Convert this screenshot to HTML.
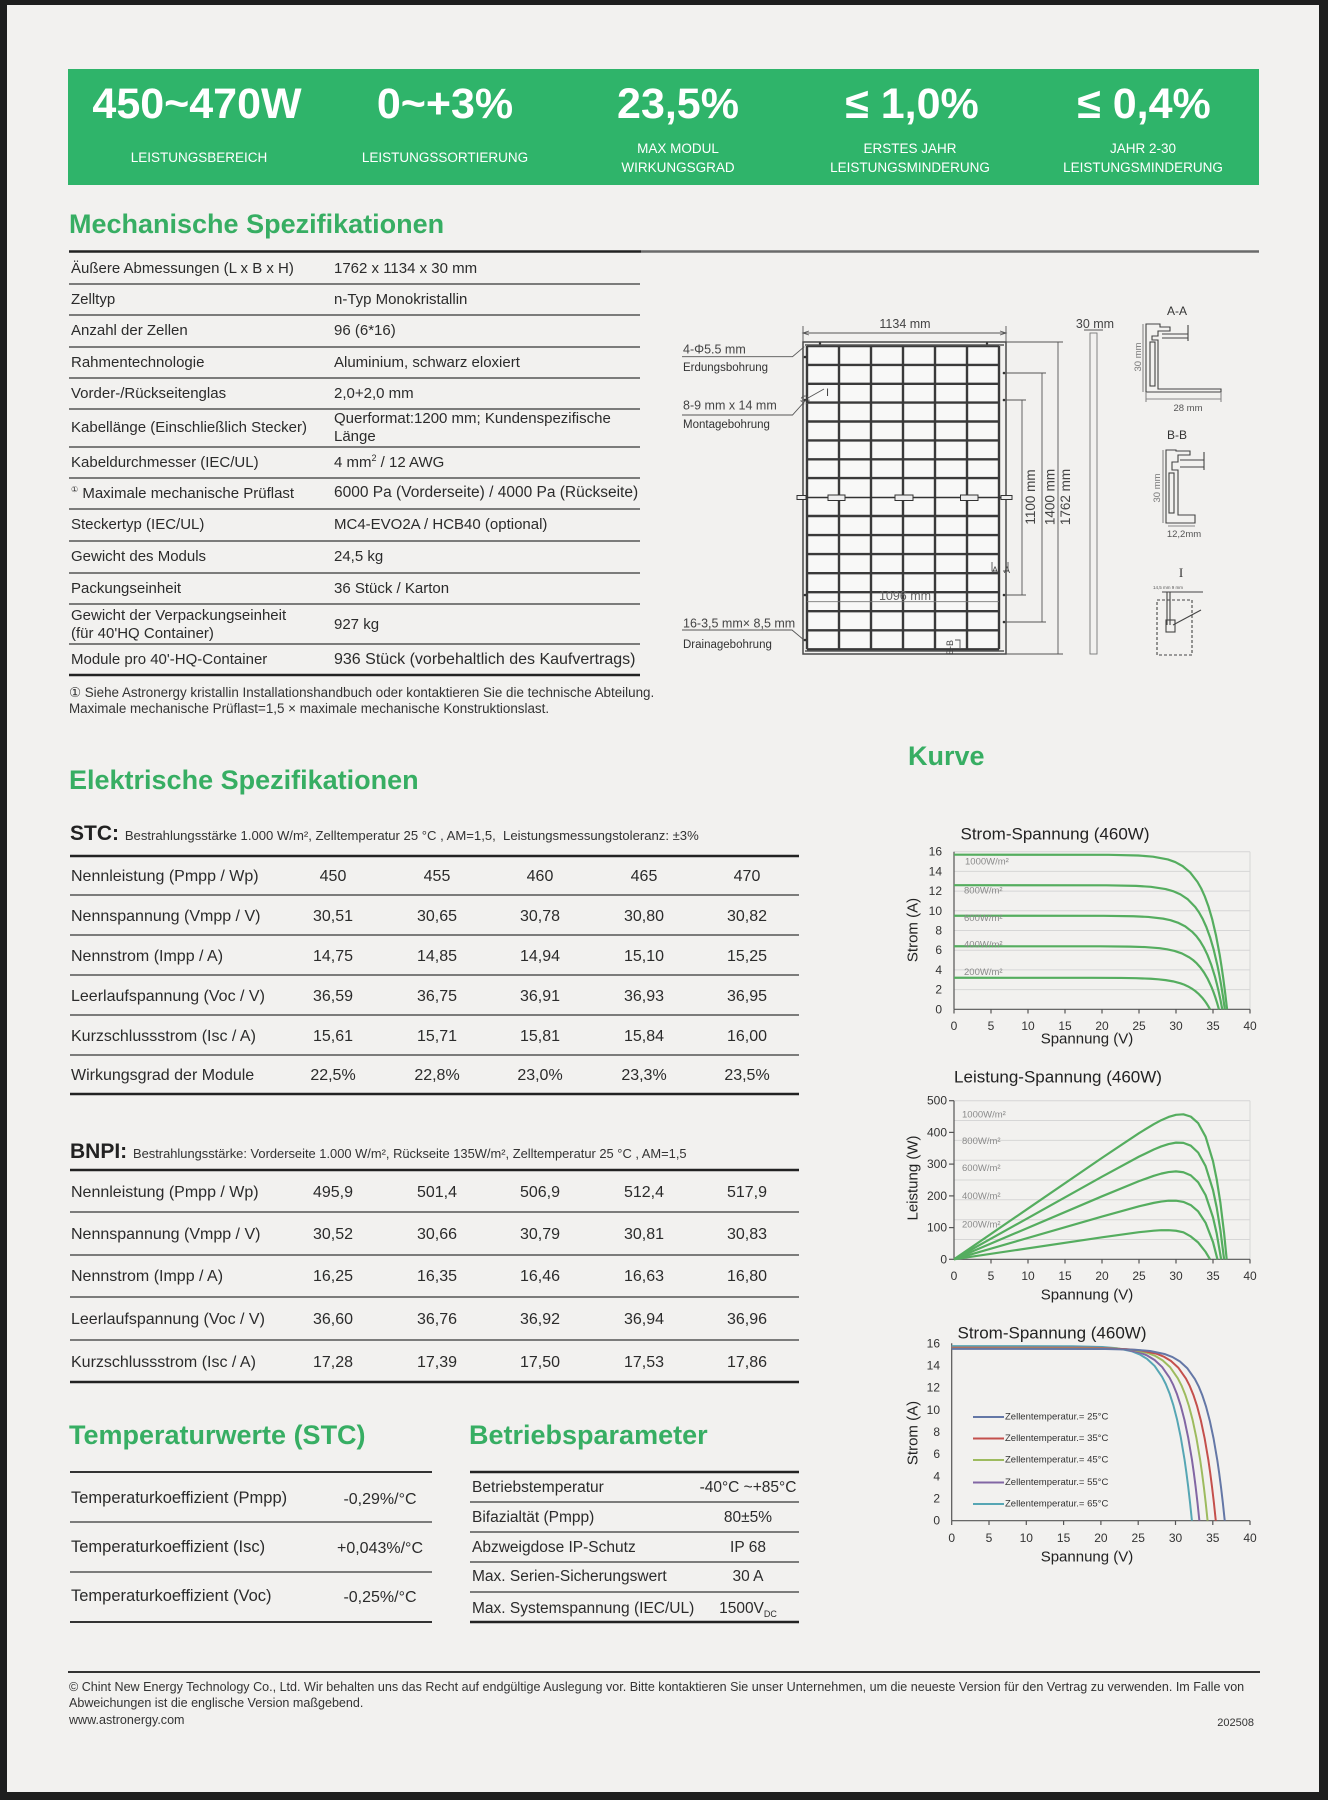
<!DOCTYPE html>
<html><head><meta charset="utf-8">
<style>
body{margin:0;width:1328px;height:1800px;background:#1e1e1e;position:relative;overflow:hidden;font-family:"Liberation Sans",sans-serif}
#pg{position:absolute;left:7px;top:5px;width:1312px;height:1787px;background:#f2f1ef}
.t{position:absolute;white-space:nowrap;line-height:1.2;color:#2b2b2b}
.b{font-weight:bold;color:#fff;font-size:43px;width:300px;text-align:center}
.l{color:#fff;font-size:13.5px;width:300px;text-align:center}
.h{font-weight:bold;color:#37ae63;font-size:27px}
.m{font-size:15px}
.e{font-size:16px}
.v{font-size:16px;width:100px;text-align:center}
.f{font-size:12.55px;color:#333}
svg{position:absolute;left:0;top:0}
</style></head><body>
<div id="pg"></div>
<div style="position:absolute;left:68px;top:69px;width:1191px;height:116px;background:#2fb46a"></div>

<svg width="1328" height="1800" viewBox="0 0 1328 1800" font-family="Liberation Sans, sans-serif">
<!-- rules -->
<line x1="69" y1="251.5" x2="641" y2="251.5" stroke="#222" stroke-width="2.5"/>
<line x1="641" y1="251.5" x2="1259" y2="251.5" stroke="#6a6a6a" stroke-width="2.5"/>
<g stroke="#555" stroke-width="1.6">
<line x1="69" y1="284" x2="640" y2="284"/><line x1="69" y1="315" x2="640" y2="315"/><line x1="69" y1="347" x2="640" y2="347"/><line x1="69" y1="378" x2="640" y2="378"/><line x1="69" y1="409" x2="640" y2="409"/><line x1="69" y1="447" x2="640" y2="447"/><line x1="69" y1="478" x2="640" y2="478"/><line x1="69" y1="509" x2="640" y2="509"/><line x1="69" y1="541" x2="640" y2="541"/><line x1="69" y1="573" x2="640" y2="573"/><line x1="69" y1="604" x2="640" y2="604"/><line x1="69" y1="644" x2="640" y2="644"/>
<line x1="70" y1="895" x2="799" y2="895"/><line x1="70" y1="935" x2="799" y2="935"/><line x1="70" y1="975" x2="799" y2="975"/><line x1="70" y1="1015" x2="799" y2="1015"/><line x1="70" y1="1055" x2="799" y2="1055"/>
<line x1="70" y1="1212" x2="799" y2="1212"/><line x1="70" y1="1255" x2="799" y2="1255"/><line x1="70" y1="1297" x2="799" y2="1297"/><line x1="70" y1="1340" x2="799" y2="1340"/>
<line x1="70" y1="1522" x2="432" y2="1522"/><line x1="70" y1="1572" x2="432" y2="1572"/>
<line x1="470" y1="1502" x2="799" y2="1502"/><line x1="470" y1="1532" x2="799" y2="1532"/><line x1="470" y1="1562" x2="799" y2="1562"/><line x1="470" y1="1592" x2="799" y2="1592"/>
</g>
<g stroke="#222" stroke-width="2.5">
<line x1="69" y1="675" x2="640" y2="675"/>
<line x1="70" y1="856" x2="799" y2="856"/><line x1="70" y1="1094" x2="799" y2="1094"/>
<line x1="70" y1="1170" x2="799" y2="1170"/><line x1="70" y1="1382" x2="799" y2="1382"/>
<line x1="70" y1="1472" x2="432" y2="1472" stroke="#333" stroke-width="2"/><line x1="70" y1="1622" x2="432" y2="1622" stroke="#333" stroke-width="2"/>
<line x1="470" y1="1472" x2="799" y2="1472"/><line x1="470" y1="1622" x2="799" y2="1622"/>
<line x1="68" y1="1672" x2="1260" y2="1672" stroke="#333" stroke-width="2"/>
</g>

<!-- module drawing -->
<rect x="807" y="346" width="192" height="303.3" fill="#f8f8f7"/>
<g stroke="#3a3a3a" stroke-width="2.4">
<line x1="807" y1="346" x2="807" y2="649.3"/><line x1="839" y1="346" x2="839" y2="649.3"/><line x1="871" y1="346" x2="871" y2="649.3"/><line x1="903" y1="346" x2="903" y2="649.3"/><line x1="935" y1="346" x2="935" y2="649.3"/><line x1="967" y1="346" x2="967" y2="649.3"/><line x1="999" y1="346" x2="999" y2="649.3"/>
<line x1="807" y1="346" x2="999" y2="346"/><line x1="807" y1="364.9" x2="999" y2="364.9"/><line x1="807" y1="383.8" x2="999" y2="383.8"/><line x1="807" y1="402.6" x2="999" y2="402.6"/><line x1="807" y1="421.5" x2="999" y2="421.5"/><line x1="807" y1="440.4" x2="999" y2="440.4"/><line x1="807" y1="459.3" x2="999" y2="459.3"/><line x1="807" y1="478.1" x2="999" y2="478.1"/>
<line x1="807" y1="516" x2="999" y2="516"/><line x1="807" y1="535.1" x2="999" y2="535.1"/><line x1="807" y1="554.1" x2="999" y2="554.1"/><line x1="807" y1="573.2" x2="999" y2="573.2"/><line x1="807" y1="592.2" x2="999" y2="592.2"/><line x1="807" y1="611.2" x2="999" y2="611.2"/><line x1="807" y1="630.3" x2="999" y2="630.3"/><line x1="807" y1="649.3" x2="999" y2="649.3"/>
</g>
<rect x="803" y="342" width="203" height="312" fill="none" stroke="#4a4a4a" stroke-width="1.5"/>
<line x1="805" y1="345" x2="1004" y2="345" stroke="#555" stroke-width="1.5"/>
<line x1="805" y1="651" x2="1004" y2="651" stroke="#555" stroke-width="1.5"/>
<line x1="797" y1="497.5" x2="1012" y2="497.5" stroke="#333" stroke-width="1.4"/>
<g fill="#eee" stroke="#333" stroke-width="1">
<rect x="828" y="495" width="17" height="5.5"/><rect x="895" y="495" width="18" height="5.5"/><rect x="960.5" y="495" width="17.5" height="5.5"/>
<rect x="797" y="495.5" width="9" height="4"/><rect x="1001" y="495.5" width="11" height="4"/>
</g>
<g fill="#333"><circle cx="805" cy="357" r="1.3"/><circle cx="805" cy="400" r="1.3"/><circle cx="805" cy="595" r="1.3"/><circle cx="805" cy="640" r="1.3"/><circle cx="1004" cy="373" r="1.3"/><circle cx="1004" cy="400" r="1.3"/><circle cx="1004" cy="595" r="1.3"/><circle cx="1004" cy="622" r="1.3"/><circle cx="820" cy="343.5" r="1.2"/><circle cx="987" cy="343.5" r="1.2"/></g>
<g stroke="#555" stroke-width="0.9" fill="none">
<line x1="803" y1="333" x2="1006" y2="333"/><line x1="803" y1="326" x2="803" y2="342"/><line x1="1006" y1="326" x2="1006" y2="342"/>
<polyline points="809,331 803,333 809,335"/><polyline points="1000,331 1006,333 1000,335"/>
<line x1="1006" y1="342" x2="1063" y2="342"/><line x1="1006" y1="654" x2="1063" y2="654"/><line x1="1058" y1="342" x2="1058" y2="654"/>
<line x1="1006" y1="373" x2="1046" y2="373"/><line x1="1006" y1="622" x2="1046" y2="622"/><line x1="1042" y1="373" x2="1042" y2="622"/>
<line x1="1006" y1="400" x2="1026" y2="400"/><line x1="1006" y1="595" x2="1026" y2="595"/><line x1="1022" y1="400" x2="1022" y2="595"/>
<line x1="807" y1="601.7" x2="999" y2="601.7" stroke="#777"/>
<polyline points="682,356.7 792.5,356.7 804.3,346.7"/>
<polyline points="682,415 792.5,415 806,400"/>
<line x1="808" y1="398" x2="824" y2="389"/>
<circle cx="805" cy="400" r="4" stroke-dasharray="2,1.5"/>
<polyline points="682,630 792,630 804,640"/>
<rect x="1090" y="333" width="7" height="321" stroke="#777"/>
<line x1="1084" y1="330" x2="1103" y2="330"/>
<polyline points="992,562 992,571 997,571"/><polyline points="1008,562 1008,571 1003,571"/>
<polyline points="955,640 960,640 960,648"/>
</g>
<g font-size="12.5" fill="#444">
<text x="905" y="328" text-anchor="middle">1134 mm</text>
<text x="1095" y="328" text-anchor="middle">30 mm</text>
<text x="905" y="600" text-anchor="middle" fill="#666">1096 mm</text>
<text x="683" y="353.5">4-Φ5.5 mm</text>
<text x="683" y="409.5">8-9 mm x 14 mm</text>
<text x="683" y="627.5">16-3,5 mm× 8,5 mm</text>
<text x="826" y="396" font-size="11">I</text>
</g>
<g font-size="11.5" fill="#333">
<text x="683" y="371">Erdungsbohrung</text>
<text x="683" y="428">Montagebohrung</text>
<text x="683" y="648">Drainagebohrung</text>
</g>
<g font-size="13.5" fill="#444" text-anchor="middle">
<text transform="translate(1070,497) rotate(-90)">1762 mm</text>
<text transform="translate(1054.5,497) rotate(-90)">1400 mm</text>
<text transform="translate(1035,497) rotate(-90)">1100 mm</text>
</g>
<g font-size="9" fill="#444"><text x="992" y="573">A</text><text x="1004" y="573">A</text><text transform="translate(953,655) rotate(-90)">B-B</text></g>

<!-- sections -->
<g font-size="12" fill="#333" text-anchor="middle">
<text x="1177" y="315">A-A</text><text x="1177" y="439">B-B</text><text x="1181" y="577" font-size="13" font-family="Liberation Serif, serif">I</text>
<text x="1188" y="411" font-size="9.5" fill="#555">28 mm</text><text x="1184" y="537" font-size="9.5" fill="#555">12,2mm</text>
<text transform="translate(1141,357) rotate(-90)" font-size="9.5" fill="#777">30 mm</text>
<text transform="translate(1160,488) rotate(-90)" font-size="9.5" fill="#777">30 mm</text>
<text x="1168" y="589" font-size="4.5" fill="#555">14,5 mm   9 mm</text>
</g>
<g stroke="#444" stroke-width="1.1" fill="none">
<path d="M1146,324 L1146,392 L1221,392 L1221,389 L1158,389 L1158,340 L1152,340 L1152,336 L1158,336 L1158,331 L1170,331 L1170,327 L1160,327 L1160,324 Z"/>
<rect x="1150" y="342" width="5" height="44"/>
<line x1="1162" y1="334" x2="1188" y2="334"/><line x1="1162" y1="338" x2="1188" y2="338"/><line x1="1188" y1="325" x2="1188" y2="341"/>
<line x1="1143" y1="324" x2="1143" y2="392" stroke="#888"/><line x1="1146" y1="399" x2="1221" y2="399" stroke="#888"/><line x1="1146" y1="392" x2="1146" y2="402" stroke="#888"/><line x1="1221" y1="392" x2="1221" y2="402" stroke="#888"/>
<path d="M1166,450 L1166,523 L1195,523 L1195,515 L1178,515 L1178,470 L1172,470 L1172,462 L1178,462 L1178,455 L1190,455 L1190,451 L1176,451 L1176,450 Z"/>
<rect x="1169" y="473" width="5" height="40"/>
<line x1="1180" y1="460" x2="1204" y2="460"/><line x1="1180" y1="467" x2="1204" y2="467"/><line x1="1204" y1="452" x2="1204" y2="470"/>
<line x1="1163" y1="450" x2="1163" y2="523" stroke="#888"/><line x1="1168" y1="526" x2="1195" y2="526" stroke="#888"/>
<rect x="1157" y="600" width="35" height="55" stroke-dasharray="3,2"/>
<line x1="1162" y1="592" x2="1203" y2="592"/><line x1="1167" y1="592" x2="1167" y2="625"/><line x1="1170" y1="592" x2="1170" y2="625"/>
<rect x="1166" y="620" width="9" height="12"/><line x1="1173" y1="625" x2="1201" y2="610"/>
</g>

<!-- Chart 1 -->
<g stroke="#d6d6d6" stroke-width="1">
<line x1="954" y1="989.6" x2="1250" y2="989.6"/><line x1="954" y1="969.9" x2="1250" y2="969.9"/><line x1="954" y1="950.2" x2="1250" y2="950.2"/><line x1="954" y1="930.5" x2="1250" y2="930.5"/><line x1="954" y1="910.8" x2="1250" y2="910.8"/><line x1="954" y1="891.1" x2="1250" y2="891.1"/><line x1="954" y1="871.4" x2="1250" y2="871.4"/><line x1="954" y1="851.7" x2="1250" y2="851.7"/>
<line x1="1250" y1="851.7" x2="1250" y2="1009.3"/>
</g>
<g stroke="#555" stroke-width="1.2">
<line x1="954" y1="851.7" x2="954" y2="1009.3"/><line x1="954" y1="1009.3" x2="1250" y2="1009.3"/>
<line x1="954" y1="1009.3" x2="954" y2="1013.5"/><line x1="991" y1="1009.3" x2="991" y2="1013.5"/><line x1="1028" y1="1009.3" x2="1028" y2="1013.5"/><line x1="1065" y1="1009.3" x2="1065" y2="1013.5"/><line x1="1102" y1="1009.3" x2="1102" y2="1013.5"/><line x1="1139" y1="1009.3" x2="1139" y2="1013.5"/><line x1="1176" y1="1009.3" x2="1176" y2="1013.5"/><line x1="1213" y1="1009.3" x2="1213" y2="1013.5"/><line x1="1250" y1="1009.3" x2="1250" y2="1013.5"/>
</g>
<defs>
<clipPath id="c1"><rect x="0" y="-5" width="41" height="600"/></clipPath>
</defs>
<g transform="translate(954 1009.3) scale(7.4 -9.85)"><g clip-path="url(#c1)" fill="none" stroke="#55ad5f" stroke-width="2.2" stroke-linejoin="round">
<path vector-effect="non-scaling-stroke" transform="translate(36.9 0) scale(1 15.7)" d="M-40,1 L-16,0.999 L-12,0.9946 L-10,0.987 L-8,0.969 L-7,0.952 L-6,0.926 L-5,0.886 L-4,0.824 L-3.5,0.782 L-3,0.729 L-2.5,0.663 L-2,0.581 L-1.5,0.479 L-1,0.353 L-0.75,0.278 L-0.5,0.195 L-0.25,0.103 L0,0"/>
<path vector-effect="non-scaling-stroke" transform="translate(36.6 0) scale(1 12.6)" d="M-40,1 L-16,0.999 L-12,0.9946 L-10,0.987 L-8,0.969 L-7,0.952 L-6,0.926 L-5,0.886 L-4,0.824 L-3.5,0.782 L-3,0.729 L-2.5,0.663 L-2,0.581 L-1.5,0.479 L-1,0.353 L-0.75,0.278 L-0.5,0.195 L-0.25,0.103 L0,0"/>
<path vector-effect="non-scaling-stroke" transform="translate(36.25 0) scale(1 9.5)" d="M-40,1 L-16,0.999 L-12,0.9946 L-10,0.987 L-8,0.969 L-7,0.952 L-6,0.926 L-5,0.886 L-4,0.824 L-3.5,0.782 L-3,0.729 L-2.5,0.663 L-2,0.581 L-1.5,0.479 L-1,0.353 L-0.75,0.278 L-0.5,0.195 L-0.25,0.103 L0,0"/>
<path vector-effect="non-scaling-stroke" transform="translate(35.8 0) scale(1 6.4)" d="M-40,1 L-16,0.999 L-12,0.9946 L-10,0.987 L-8,0.969 L-7,0.952 L-6,0.926 L-5,0.886 L-4,0.824 L-3.5,0.782 L-3,0.729 L-2.5,0.663 L-2,0.581 L-1.5,0.479 L-1,0.353 L-0.75,0.278 L-0.5,0.195 L-0.25,0.103 L0,0"/>
<path vector-effect="non-scaling-stroke" transform="translate(34.6 0) scale(1 3.2)" d="M-40,1 L-16,0.999 L-12,0.9946 L-10,0.987 L-8,0.969 L-7,0.952 L-6,0.926 L-5,0.886 L-4,0.824 L-3.5,0.782 L-3,0.729 L-2.5,0.663 L-2,0.581 L-1.5,0.479 L-1,0.353 L-0.75,0.278 L-0.5,0.195 L-0.25,0.103 L0,0"/>
</g></g>
<g font-size="9.5" fill="#8a8a8a" dominant-baseline="central">
<text x="965" y="862">1000W/m²</text><text x="964" y="891">800W/m²</text><text x="964" y="918.5">600W/m²</text><text x="964" y="945">400W/m²</text><text x="964" y="972.5">200W/m²</text>
</g>
<g font-size="12" fill="#333" dominant-baseline="central" text-anchor="end">
<text x="942" y="1009.3">0</text><text x="942" y="989.6">2</text><text x="942" y="969.9">4</text><text x="942" y="950.2">6</text><text x="942" y="930.5">8</text><text x="942" y="910.8">10</text><text x="942" y="891.1">12</text><text x="942" y="871.4">14</text><text x="942" y="851.7">16</text>
</g>
<g font-size="12" fill="#333" dominant-baseline="central" text-anchor="middle">
<text x="954" y="1026">0</text><text x="991" y="1026">5</text><text x="1028" y="1026">10</text><text x="1065" y="1026">15</text><text x="1102" y="1026">20</text><text x="1139" y="1026">25</text><text x="1176" y="1026">30</text><text x="1213" y="1026">35</text><text x="1250" y="1026">40</text>
</g>
<g fill="#222" text-anchor="middle" dominant-baseline="central">
<text x="1055" y="834" font-size="17">Strom-Spannung (460W)</text>
<text x="1087" y="1039" font-size="15">Spannung (V)</text>
<text transform="translate(913,930) rotate(-90)" font-size="15">Strom (A)</text>
</g>

<!-- Chart 2 -->
<g stroke="#d6d6d6" stroke-width="1">
<line x1="954" y1="1239.5" x2="1250" y2="1239.5"/><line x1="954" y1="1219.7" x2="1250" y2="1219.7"/><line x1="954" y1="1199.8" x2="1250" y2="1199.8"/><line x1="954" y1="1180" x2="1250" y2="1180"/><line x1="954" y1="1160.2" x2="1250" y2="1160.2"/><line x1="954" y1="1140.4" x2="1250" y2="1140.4"/><line x1="954" y1="1120.5" x2="1250" y2="1120.5"/><line x1="954" y1="1100.7" x2="1250" y2="1100.7"/>
<line x1="1250" y1="1100.7" x2="1250" y2="1259.3"/>
</g>
<g stroke="#555" stroke-width="1.2">
<line x1="954" y1="1100.7" x2="954" y2="1259.3"/><line x1="954" y1="1259.3" x2="1250" y2="1259.3"/>
<line x1="949" y1="1259.3" x2="954" y2="1259.3"/><line x1="949" y1="1227.6" x2="954" y2="1227.6"/><line x1="949" y1="1195.9" x2="954" y2="1195.9"/><line x1="949" y1="1164.1" x2="954" y2="1164.1"/><line x1="949" y1="1132.4" x2="954" y2="1132.4"/><line x1="949" y1="1100.7" x2="954" y2="1100.7"/>
<line x1="991" y1="1259.3" x2="991" y2="1263.5"/><line x1="1028" y1="1259.3" x2="1028" y2="1263.5"/><line x1="1065" y1="1259.3" x2="1065" y2="1263.5"/><line x1="1102" y1="1259.3" x2="1102" y2="1263.5"/><line x1="1139" y1="1259.3" x2="1139" y2="1263.5"/><line x1="1176" y1="1259.3" x2="1176" y2="1263.5"/><line x1="1213" y1="1259.3" x2="1213" y2="1263.5"/><line x1="1250" y1="1259.3" x2="1250" y2="1263.5"/>
</g>
<g transform="translate(954 1259.3) scale(7.4 -0.3172)" fill="none" stroke="#55ad5f" stroke-width="2.2" stroke-linejoin="round">
<polyline vector-effect="non-scaling-stroke" points="0,0 10,160 20,319.8 25,397.7 27,426 28,438.5 29,448.7 30,455.5 31,457 32,449.8 33,429 34,386.5 35,309.4 35.5,252.2 36,178 36.5,82.3 36.85,0"/>
<polyline vector-effect="non-scaling-stroke" points="0,0 20,260.4 25,323.6 27,346.1 28,355.8 29,363.4 30,367.8 31,367 32,358.2 33,336.3 34,293.7 35,218.4 35.5,163.3 36,91.5 36.5,0"/>
<polyline vector-effect="non-scaling-stroke" points="0,0 20,198.6 25,246.5 27,263.3 28,270.1 29,275.1 30,277.2 31,274.5 32,264.6 33,242.8 34,202.3 35,132.2 35.5,81.2 36.1,0"/>
<polyline vector-effect="non-scaling-stroke" points="0,0 20,134.9 25,167.1 27,177.9 28,182 29,184.7 30,184.7 31,180.9 32,170.9 33,150.8 34,115.1 35,54.3 35.6,0"/>
<polyline vector-effect="non-scaling-stroke" points="0,0 20,69.3 25,85.4 27,90.2 28,91.7 29,91.8 30,90 31,85.1 32,72 33,52.9 34,23.4 34.6,0"/>
</g>
<g font-size="9.5" fill="#8a8a8a" dominant-baseline="central">
<text x="962" y="1115">1000W/m²</text><text x="962" y="1141.7">800W/m²</text><text x="962" y="1168.3">600W/m²</text><text x="962" y="1196.7">400W/m²</text><text x="962" y="1225">200W/m²</text>
</g>
<g font-size="12" fill="#333" dominant-baseline="central" text-anchor="end">
<text x="947" y="1259.3">0</text><text x="947" y="1227.6">100</text><text x="947" y="1195.9">200</text><text x="947" y="1164.1">300</text><text x="947" y="1132.4">400</text><text x="947" y="1100.7">500</text>
</g>
<g font-size="12" fill="#333" dominant-baseline="central" text-anchor="middle">
<text x="954" y="1276">0</text><text x="991" y="1276">5</text><text x="1028" y="1276">10</text><text x="1065" y="1276">15</text><text x="1102" y="1276">20</text><text x="1139" y="1276">25</text><text x="1176" y="1276">30</text><text x="1213" y="1276">35</text><text x="1250" y="1276">40</text>
</g>
<g fill="#222" text-anchor="middle" dominant-baseline="central">
<text x="1058" y="1077" font-size="17">Leistung-Spannung (460W)</text>
<text x="1087" y="1295" font-size="15">Spannung (V)</text>
<text transform="translate(913,1178) rotate(-90)" font-size="15">Leistung (W)</text>
</g>

<!-- Chart 3 -->
<g stroke="#555" stroke-width="1.2">
<line x1="951.7" y1="1343.3" x2="951.7" y2="1520.7"/><line x1="951.7" y1="1520.7" x2="1250" y2="1520.7"/>
<line x1="951.7" y1="1520.7" x2="951.7" y2="1525"/><line x1="989" y1="1520.7" x2="989" y2="1525"/><line x1="1026.3" y1="1520.7" x2="1026.3" y2="1525"/><line x1="1063.6" y1="1520.7" x2="1063.6" y2="1525"/><line x1="1100.9" y1="1520.7" x2="1100.9" y2="1525"/><line x1="1138.2" y1="1520.7" x2="1138.2" y2="1525"/><line x1="1175.5" y1="1520.7" x2="1175.5" y2="1525"/><line x1="1212.8" y1="1520.7" x2="1212.8" y2="1525"/><line x1="1250" y1="1520.7" x2="1250" y2="1525"/>
</g>
<g transform="translate(951.7 1520.7) scale(7.46 -11.09)"><g clip-path="url(#c1)" fill="none" stroke-width="2" stroke-linejoin="round">
<path stroke="#56a6b4" vector-effect="non-scaling-stroke" transform="translate(32.2 0) scale(1 15.75)" d="M-40,1 L-16,0.999 L-12,0.9946 L-10,0.987 L-8,0.969 L-7,0.952 L-6,0.926 L-5,0.886 L-4,0.824 L-3.5,0.782 L-3,0.729 L-2.5,0.663 L-2,0.581 L-1.5,0.479 L-1,0.353 L-0.75,0.278 L-0.5,0.195 L-0.25,0.103 L0,0"/>
<path stroke="#8266a4" vector-effect="non-scaling-stroke" transform="translate(33.2 0) scale(1 15.65)" d="M-40,1 L-16,0.999 L-12,0.9946 L-10,0.987 L-8,0.969 L-7,0.952 L-6,0.926 L-5,0.886 L-4,0.824 L-3.5,0.782 L-3,0.729 L-2.5,0.663 L-2,0.581 L-1.5,0.479 L-1,0.353 L-0.75,0.278 L-0.5,0.195 L-0.25,0.103 L0,0"/>
<path stroke="#9dbb5e" vector-effect="non-scaling-stroke" transform="translate(34.3 0) scale(1 15.6)" d="M-40,1 L-16,0.999 L-12,0.9946 L-10,0.987 L-8,0.969 L-7,0.952 L-6,0.926 L-5,0.886 L-4,0.824 L-3.5,0.782 L-3,0.729 L-2.5,0.663 L-2,0.581 L-1.5,0.479 L-1,0.353 L-0.75,0.278 L-0.5,0.195 L-0.25,0.103 L0,0"/>
<path stroke="#c4504c" vector-effect="non-scaling-stroke" transform="translate(35.4 0) scale(1 15.55)" d="M-40,1 L-16,0.999 L-12,0.9946 L-10,0.987 L-8,0.969 L-7,0.952 L-6,0.926 L-5,0.886 L-4,0.824 L-3.5,0.782 L-3,0.729 L-2.5,0.663 L-2,0.581 L-1.5,0.479 L-1,0.353 L-0.75,0.278 L-0.5,0.195 L-0.25,0.103 L0,0"/>
<path stroke="#6477a6" vector-effect="non-scaling-stroke" transform="translate(36.6 0) scale(1 15.5)" d="M-40,1 L-16,0.999 L-12,0.9946 L-10,0.987 L-8,0.969 L-7,0.952 L-6,0.926 L-5,0.886 L-4,0.824 L-3.5,0.782 L-3,0.729 L-2.5,0.663 L-2,0.581 L-1.5,0.479 L-1,0.353 L-0.75,0.278 L-0.5,0.195 L-0.25,0.103 L0,0"/>
</g></g>
<g stroke-width="2">
<line x1="973" y1="1417" x2="1004" y2="1417" stroke="#6477a6"/><line x1="973" y1="1438.5" x2="1004" y2="1438.5" stroke="#c4504c"/><line x1="973" y1="1460" x2="1004" y2="1460" stroke="#9dbb5e"/><line x1="973" y1="1482.5" x2="1004" y2="1482.5" stroke="#8266a4"/><line x1="973" y1="1504" x2="1004" y2="1504" stroke="#56a6b4"/>
</g>
<g font-size="9.5" fill="#333" dominant-baseline="central">
<text x="1005" y="1417">Zellentemperatur.= 25°C</text><text x="1005" y="1438.5">Zellentemperatur.= 35°C</text><text x="1005" y="1460">Zellentemperatur.= 45°C</text><text x="1005" y="1482.5">Zellentemperatur.= 55°C</text><text x="1005" y="1504">Zellentemperatur.= 65°C</text>
</g>
<g font-size="12" fill="#333" dominant-baseline="central" text-anchor="end">
<text x="940" y="1520.7">0</text><text x="940" y="1498.5">2</text><text x="940" y="1476.3">4</text><text x="940" y="1454.2">6</text><text x="940" y="1432">8</text><text x="940" y="1409.8">10</text><text x="940" y="1387.7">12</text><text x="940" y="1365.5">14</text><text x="940" y="1343.3">16</text>
</g>
<g font-size="12" fill="#333" dominant-baseline="central" text-anchor="middle">
<text x="951.7" y="1538">0</text><text x="989" y="1538">5</text><text x="1026.3" y="1538">10</text><text x="1063.6" y="1538">15</text><text x="1100.9" y="1538">20</text><text x="1138.2" y="1538">25</text><text x="1175.5" y="1538">30</text><text x="1212.8" y="1538">35</text><text x="1250" y="1538">40</text>
</g>
<g fill="#222" text-anchor="middle" dominant-baseline="central">
<text x="1052" y="1333" font-size="17">Strom-Spannung (460W)</text>
<text x="1087" y="1557" font-size="15">Spannung (V)</text>
<text transform="translate(913,1433) rotate(-90)" font-size="15">Strom (A)</text>
</g>
</svg>

<!-- Banner -->
<div class="t b" style="left:47px;top:79px">450~470W</div>
<div class="t b" style="left:295px;top:79px">0~+3%</div>
<div class="t b" style="left:528px;top:79px">23,5%</div>
<div class="t b" style="left:762px;top:79px">≤ 1,0%</div>
<div class="t b" style="left:994px;top:79px">≤ 0,4%</div>
<div class="t l" style="left:49px;top:149.5px">LEISTUNGSBEREICH</div>
<div class="t l" style="left:295px;top:149.5px">LEISTUNGSSORTIERUNG</div>
<div class="t l" style="left:528px;top:141.3px">MAX MODUL</div>
<div class="t l" style="left:528px;top:159.7px">WIRKUNGSGRAD</div>
<div class="t l" style="left:760px;top:141.3px">ERSTES JAHR</div>
<div class="t l" style="left:760px;top:159.7px">LEISTUNGSMINDERUNG</div>
<div class="t l" style="left:993px;top:141.3px">JAHR 2-30</div>
<div class="t l" style="left:993px;top:159.7px">LEISTUNGSMINDERUNG</div>

<!-- Headings -->
<div class="t h" style="left:69px;top:208px">Mechanische Spezifikationen</div>
<div class="t h" style="left:69px;top:764px">Elektrische Spezifikationen</div>
<div class="t h" style="left:908px;top:740px">Kurve</div>
<div class="t h" style="left:69px;top:1419px">Temperaturwerte (STC)</div>
<div class="t h" style="left:469px;top:1419px">Betriebsparameter</div>

<!-- Mech table -->
<div class="t m" style="left:71px;top:259.5px">Äußere Abmessungen (L x B x H)</div><div class="t m" style="left:334px;top:259.5px">1762 x 1134 x 30 mm</div>
<div class="t m" style="left:71px;top:290.6px">Zelltyp</div><div class="t m" style="left:334px;top:290.6px">n-Typ Monokristallin</div>
<div class="t m" style="left:71px;top:322px">Anzahl der Zellen</div><div class="t m" style="left:334px;top:322px">96 (6*16)</div>
<div class="t m" style="left:71px;top:353.6px">Rahmentechnologie</div><div class="t m" style="left:334px;top:353.6px">Aluminium, schwarz eloxiert</div>
<div class="t m" style="left:71px;top:384.6px">Vorder-/Rückseitenglas</div><div class="t m" style="left:334px;top:384.6px">2,0+2,0 mm</div>
<div class="t m" style="left:71px;top:419px">Kabellänge (Einschließlich Stecker)</div><div class="t m" style="left:334px;top:410.4px">Querformat:1200 mm; Kundenspezifische</div><div class="t m" style="left:334px;top:428.4px">Länge</div>
<div class="t m" style="left:71px;top:453.6px">Kabeldurchmesser (IEC/UL)</div><div class="t m" style="left:334px;top:453.6px">4 mm<sup style="font-size:9px;line-height:0">2</sup> / 12 AWG</div>
<div class="t m" style="left:71px;top:484.6px"><sup style="font-size:8px;line-height:0">①</sup> Maximale mechanische Prüflast</div><div class="t m" style="left:334px;top:484.3px;font-size:15.5px">6000 Pa (Vorderseite) / 4000 Pa (Rückseite)</div>
<div class="t m" style="left:71px;top:516px">Steckertyp (IEC/UL)</div><div class="t m" style="left:334px;top:516px">MC4-EVO2A / HCB40 (optional)</div>
<div class="t m" style="left:71px;top:548px">Gewicht des Moduls</div><div class="t m" style="left:334px;top:548px">24,5 kg</div>
<div class="t m" style="left:71px;top:579.6px">Packungseinheit</div><div class="t m" style="left:334px;top:579.6px">36 Stück / Karton</div>
<div class="t m" style="left:71px;top:607px">Gewicht der Verpackungseinheit</div><div class="t m" style="left:71px;top:625px">(für 40'HQ Container)</div><div class="t m" style="left:334px;top:616px">927 kg</div>
<div class="t m" style="left:71px;top:650.6px">Module pro 40'-HQ-Container</div><div class="t m" style="left:334px;top:650px;font-size:16px">936 Stück (vorbehaltlich des Kaufvertrags)</div>
<div class="t" style="left:69px;top:685px;font-size:13.4px;color:#333">① Siehe Astronergy kristallin Installationshandbuch oder kontaktieren Sie die technische Abteilung.</div>
<div class="t" style="left:69px;top:700.5px;font-size:13.4px;color:#333">Maximale mechanische Prüflast=1,5 × maximale mechanische Konstruktionslast.</div>

<!-- STC -->
<div class="t" style="left:70px;top:820.6px;font-size:21px;font-weight:bold;color:#222">STC: <span style="font-size:13.1px;font-weight:normal;color:#333">Bestrahlungsstärke 1.000 W/m², Zelltemperatur 25 °C , AM=1,5,&nbsp; Leistungsmessungstoleranz: ±3%</span></div>
<div class="t e" style="left:71px;top:866.6px">Nennleistung (Pmpp / Wp)</div>
<div class="t v" style="left:283px;top:866.6px">450</div><div class="t v" style="left:387px;top:866.6px">455</div><div class="t v" style="left:490px;top:866.6px">460</div><div class="t v" style="left:594px;top:866.6px">465</div><div class="t v" style="left:697px;top:866.6px">470</div>
<div class="t e" style="left:71px;top:906.6px">Nennspannung (Vmpp / V)</div>
<div class="t v" style="left:283px;top:906.6px">30,51</div><div class="t v" style="left:387px;top:906.6px">30,65</div><div class="t v" style="left:490px;top:906.6px">30,78</div><div class="t v" style="left:594px;top:906.6px">30,80</div><div class="t v" style="left:697px;top:906.6px">30,82</div>
<div class="t e" style="left:71px;top:946.6px">Nennstrom (Impp / A)</div>
<div class="t v" style="left:283px;top:946.6px">14,75</div><div class="t v" style="left:387px;top:946.6px">14,85</div><div class="t v" style="left:490px;top:946.6px">14,94</div><div class="t v" style="left:594px;top:946.6px">15,10</div><div class="t v" style="left:697px;top:946.6px">15,25</div>
<div class="t e" style="left:71px;top:986.6px">Leerlaufspannung (Voc / V)</div>
<div class="t v" style="left:283px;top:986.6px">36,59</div><div class="t v" style="left:387px;top:986.6px">36,75</div><div class="t v" style="left:490px;top:986.6px">36,91</div><div class="t v" style="left:594px;top:986.6px">36,93</div><div class="t v" style="left:697px;top:986.6px">36,95</div>
<div class="t e" style="left:71px;top:1026.6px">Kurzschlussstrom (Isc / A)</div>
<div class="t v" style="left:283px;top:1026.6px">15,61</div><div class="t v" style="left:387px;top:1026.6px">15,71</div><div class="t v" style="left:490px;top:1026.6px">15,81</div><div class="t v" style="left:594px;top:1026.6px">15,84</div><div class="t v" style="left:697px;top:1026.6px">16,00</div>
<div class="t e" style="left:71px;top:1065.6px">Wirkungsgrad der Module</div>
<div class="t v" style="left:283px;top:1065.6px">22,5%</div><div class="t v" style="left:387px;top:1065.6px">22,8%</div><div class="t v" style="left:490px;top:1065.6px">23,0%</div><div class="t v" style="left:594px;top:1065.6px">23,3%</div><div class="t v" style="left:697px;top:1065.6px">23,5%</div>

<!-- BNPI -->
<div class="t" style="left:70px;top:1138.6px;font-size:21px;font-weight:bold;color:#222">BNPI: <span style="font-size:12.9px;font-weight:normal;color:#333">Bestrahlungsstärke: Vorderseite 1.000 W/m², Rückseite 135W/m², Zelltemperatur 25 °C , AM=1,5</span></div>
<div class="t e" style="left:71px;top:1182.6px">Nennleistung (Pmpp / Wp)</div>
<div class="t v" style="left:283px;top:1182.6px">495,9</div><div class="t v" style="left:387px;top:1182.6px">501,4</div><div class="t v" style="left:490px;top:1182.6px">506,9</div><div class="t v" style="left:594px;top:1182.6px">512,4</div><div class="t v" style="left:697px;top:1182.6px">517,9</div>
<div class="t e" style="left:71px;top:1224.6px">Nennspannung (Vmpp / V)</div>
<div class="t v" style="left:283px;top:1224.6px">30,52</div><div class="t v" style="left:387px;top:1224.6px">30,66</div><div class="t v" style="left:490px;top:1224.6px">30,79</div><div class="t v" style="left:594px;top:1224.6px">30,81</div><div class="t v" style="left:697px;top:1224.6px">30,83</div>
<div class="t e" style="left:71px;top:1266.6px">Nennstrom (Impp / A)</div>
<div class="t v" style="left:283px;top:1266.6px">16,25</div><div class="t v" style="left:387px;top:1266.6px">16,35</div><div class="t v" style="left:490px;top:1266.6px">16,46</div><div class="t v" style="left:594px;top:1266.6px">16,63</div><div class="t v" style="left:697px;top:1266.6px">16,80</div>
<div class="t e" style="left:71px;top:1309.6px">Leerlaufspannung (Voc / V)</div>
<div class="t v" style="left:283px;top:1309.6px">36,60</div><div class="t v" style="left:387px;top:1309.6px">36,76</div><div class="t v" style="left:490px;top:1309.6px">36,92</div><div class="t v" style="left:594px;top:1309.6px">36,94</div><div class="t v" style="left:697px;top:1309.6px">36,96</div>
<div class="t e" style="left:71px;top:1352.6px">Kurzschlussstrom (Isc / A)</div>
<div class="t v" style="left:283px;top:1352.6px">17,28</div><div class="t v" style="left:387px;top:1352.6px">17,39</div><div class="t v" style="left:490px;top:1352.6px">17,50</div><div class="t v" style="left:594px;top:1352.6px">17,53</div><div class="t v" style="left:697px;top:1352.6px">17,86</div>

<!-- Temperature -->
<div class="t e" style="left:71px;top:1489.3px;font-size:16.5px">Temperaturkoeffizient (Pmpp)</div><div class="t v" style="left:330px;top:1489.6px">-0,29%/°C</div>
<div class="t e" style="left:71px;top:1538.3px;font-size:16.5px">Temperaturkoeffizient (Isc)</div><div class="t v" style="left:330px;top:1538.6px">+0,043%/°C</div>
<div class="t e" style="left:71px;top:1587.3px;font-size:16.5px">Temperaturkoeffizient (Voc)</div><div class="t v" style="left:330px;top:1587.6px">-0,25%/°C</div>

<div class="t" style="left:472px;top:1478.9px;font-size:15.5px">Betriebstemperatur</div><div class="t" style="left:688px;top:1478.9px;font-size:15.5px;width:120px;text-align:center">-40°C ~+85°C</div>
<div class="t" style="left:472px;top:1508.9px;font-size:15.5px">Bifazialtät (Pmpp)</div><div class="t" style="left:698px;top:1508.9px;font-size:15.5px;width:100px;text-align:center">80±5%</div>
<div class="t" style="left:472px;top:1538.9px;font-size:15.5px">Abzweigdose IP-Schutz</div><div class="t" style="left:698px;top:1538.9px;font-size:15.5px;width:100px;text-align:center">IP 68</div>
<div class="t" style="left:472px;top:1567.9px;font-size:15.5px">Max. Serien-Sicherungswert</div><div class="t" style="left:698px;top:1567.9px;font-size:15.5px;width:100px;text-align:center">30 A</div>
<div class="t" style="left:472px;top:1599.9px;font-size:15.5px">Max. Systemspannung (IEC/UL)</div><div class="t" style="left:698px;top:1599.9px;font-size:15.5px;width:100px;text-align:center">1500V<span style="font-size:9px;position:relative;top:4px">DC</span></div>

<!-- Footer -->
<div class="t f" style="left:69px;top:1679.6px">© Chint New Energy Technology Co., Ltd. Wir behalten uns das Recht auf endgültige Auslegung vor. Bitte kontaktieren Sie unser Unternehmen, um die neueste Version für den Vertrag zu verwenden. Im Falle von</div>
<div class="t f" style="left:69px;top:1695.6px">Abweichungen ist die englische Version maßgebend.</div>
<div class="t f" style="left:69px;top:1712.6px">www.astronergy.com</div>
<div class="t f" style="left:1154px;top:1716.9px;width:100px;text-align:right;font-size:11px">202508</div>
</body></html>
